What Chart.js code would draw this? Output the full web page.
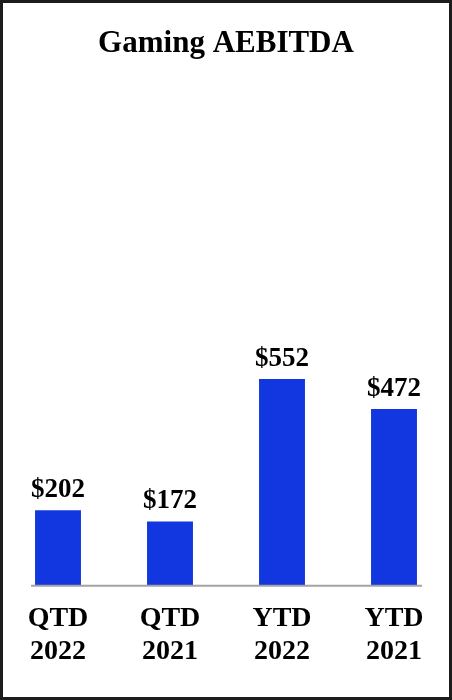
<!DOCTYPE html>
<html>
<head>
<meta charset="utf-8">
<script src="https://cdn.jsdelivr.net/npm/chart.js@4"></script>
<style>
  html, body { margin: 0; padding: 0; background: #fff; }
  .wrap { position: relative; width: 452px; height: 700px; }
  .frame { position: absolute; left: 0; top: 0; width: 452px; height: 700px; box-sizing: border-box; border: 3px solid #1c1c1c; pointer-events: none; }
  canvas { display: block; }
</style>
</head>
<body>
<div class="wrap">
  <canvas id="chart" width="452" height="700"></canvas>
  <div class="frame"></div>
</div>
<script>
// values in $ millions
const periods = ['QTD', 'QTD', 'YTD', 'YTD'];
const years = ['2022', '2021', '2022', '2021'];
const values = [202, 172, 552, 472];

const serif = '"Liberation Serif", "Times New Roman", serif';

// "$202" style labels sitting above each bar
const valueLabels = {
    id: 'valueLabels',
    afterDatasetsDraw(chart) {
        const ctx = chart.ctx;
        const meta = chart.getDatasetMeta(0);
        ctx.save();
        ctx.font = 'bold 27px ' + serif;
        ctx.fillStyle = '#000';
        ctx.textAlign = 'center';
        ctx.textBaseline = 'alphabetic';
        meta.data.forEach((bar, i) => {
            ctx.fillText('$' + values[i], bar.x, bar.y - 13);
        });
        ctx.restore();
    }
};

// grey baseline, a little wider than the outer bars
const baseline = {
    id: 'baseline',
    afterDatasetsDraw(chart) {
        const ctx = chart.ctx;
        const bars = chart.getDatasetMeta(0).data;
        const first = bars[0], last = bars[bars.length - 1];
        const y = chart.scales.y.getPixelForValue(0);
        ctx.save();
        ctx.strokeStyle = '#a3a3a3';
        ctx.lineWidth = 2;
        ctx.beginPath();
        ctx.moveTo(first.x - first.width / 2 - 4, y);
        ctx.lineTo(last.x + last.width / 2 + 5, y);
        ctx.stroke();
        ctx.restore();
    }
};

new Chart(document.getElementById('chart').getContext('2d'), {
    type: 'bar',
    data: {
        labels: periods.map((p, i) => [p, years[i]]),
        datasets: [{
            data: values,
            backgroundColor: '#1236e0',
            borderWidth: 0,
            categoryPercentage: 1,
            barPercentage: 0.41
        }]
    },
    options: {
        responsive: false,
        animation: false,
        devicePixelRatio: 1,
        layout: { padding: { left: 2, right: 2, top: 0, bottom: 15 } },
        plugins: {
            legend: { display: false },
            tooltip: { enabled: false },
            title: {
                display: true,
                text: 'Gaming AEBITDA',
                color: '#000',
                font: { family: serif, size: 31, weight: 'bold', lineHeight: 1.2 },
                padding: { top: 25, bottom: 3 }
            }
        },
        scales: {
            x: {
                grid: { display: false, drawTicks: false },
                border: { display: false },
                ticks: {
                    color: '#000',
                    padding: 16,
                    maxRotation: 0,
                    font: { family: serif, size: 28, weight: 'bold', lineHeight: 1.2 }
                }
            },
            y: {
                display: false,
                min: 0,
                max: 1390
            }
        }
    },
    plugins: [valueLabels, baseline]
});
</script>
</body>
</html>
